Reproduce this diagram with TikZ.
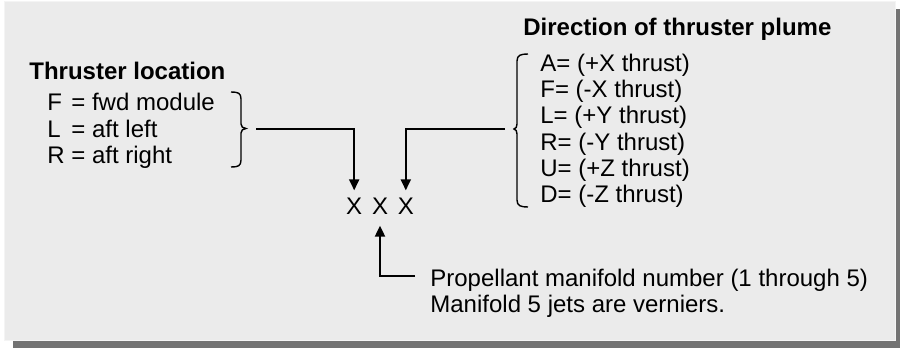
\documentclass[tikz,border=0pt]{standalone}
\usepackage{fontspec}
\setmainfont{Liberation Sans}
\usetikzlibrary{arrows.meta,positioning}
\definecolor{pnlgray}{HTML}{EBEBEB}
\definecolor{pnledge}{HTML}{F4F4F4}
\definecolor{shdgray}{HTML}{737373}

\begin{document}
\begin{tikzpicture}[x=0.5pt,y=-0.5pt,
      txt/.style={anchor=base west,inner sep=0pt,font=\fontsize{12}{13.2}\selectfont},
      ttl/.style={txt,font=\fontsize{12}{13.2}\selectfont\bfseries},
      xmark/.style={inner xsep=0pt,inner ysep=3.5pt,font=\fontsize{12}{13.2}\selectfont},
      brc/.style={draw=black,line width=0.7pt},
      arr/.style={-{Triangle[width=5pt,length=5.5pt]},line width=1pt,draw=black}]
    \useasboundingbox (0,0) rectangle (900,348);
    % panel with drop shadow
    \fill[shdgray] (13,9) rectangle (900,348);
    \fill[pnlgray,draw=pnledge,line width=0.5pt] (4,1) rectangle (895,340);
    % thruster code letters
    \node[xmark] (x2) at (380,206) {X};
    \node[xmark,left=4.5pt of x2] (x1) {X};
    \node[xmark,right=4.5pt of x2] (x3) {X};
    % left key
    \node[ttl] (loctitle) at (29,79) {Thruster location};
    \node[txt] (loclist) at (47,110.7) {\begin{tabular}[t]{@{}l@{\ }l@{}}
        F & = fwd module\\ L & = aft left\\ R & = aft right\end{tabular}};
    \draw[brc] (231,92) .. controls (238,92) and (241,93) .. (241,99) -- (241,124)
      .. controls (241,127) and (243,128) .. (246,128.5)
      .. controls (243,129) and (241,130) .. (241,133) -- (241,160)
      .. controls (241,166) and (238,167) .. (231,167);
    \coordinate (locend) at (256,129);
    % right key
    \node[ttl] (dirtitle) at (523,35) {Direction of thruster plume};
    \node[txt] (dirlist) at (540,71) {\begin{tabular}[t]{@{}l@{}}
        A= (+X thrust)\\ F= (-X thrust)\\ L= (+Y thrust)\\
        R= (-Y thrust)\\ U= (+Z thrust)\\ D= (-Z thrust)\end{tabular}};
    \draw[brc] (528,54) .. controls (521,54) and (517,55) .. (517,61) -- (517,124)
      .. controls (517,127) and (516,128.5) .. (514,129)
      .. controls (516,129.5) and (517,131) .. (517,134) -- (517,200)
      .. controls (517,206) and (521,207) .. (528,207);
    \coordinate (dirend) at (505,129);
    % manifold note
    \node[txt] (note) at (430,286) {\begin{tabular}[t]{@{}l@{}}
        Propellant manifold number (1 through 5)\\
        Manifold 5 jets are verniers.\end{tabular}};
    \coordinate (noteend) at (415,276);
    % connectors
    \draw[arr] (locend) -| (x1.north);
    \draw[arr] (dirend) -| (x3.north);
    \draw[arr] (noteend) -| ([yshift=-2pt]x2.south);
\end{tikzpicture}
\end{document}
